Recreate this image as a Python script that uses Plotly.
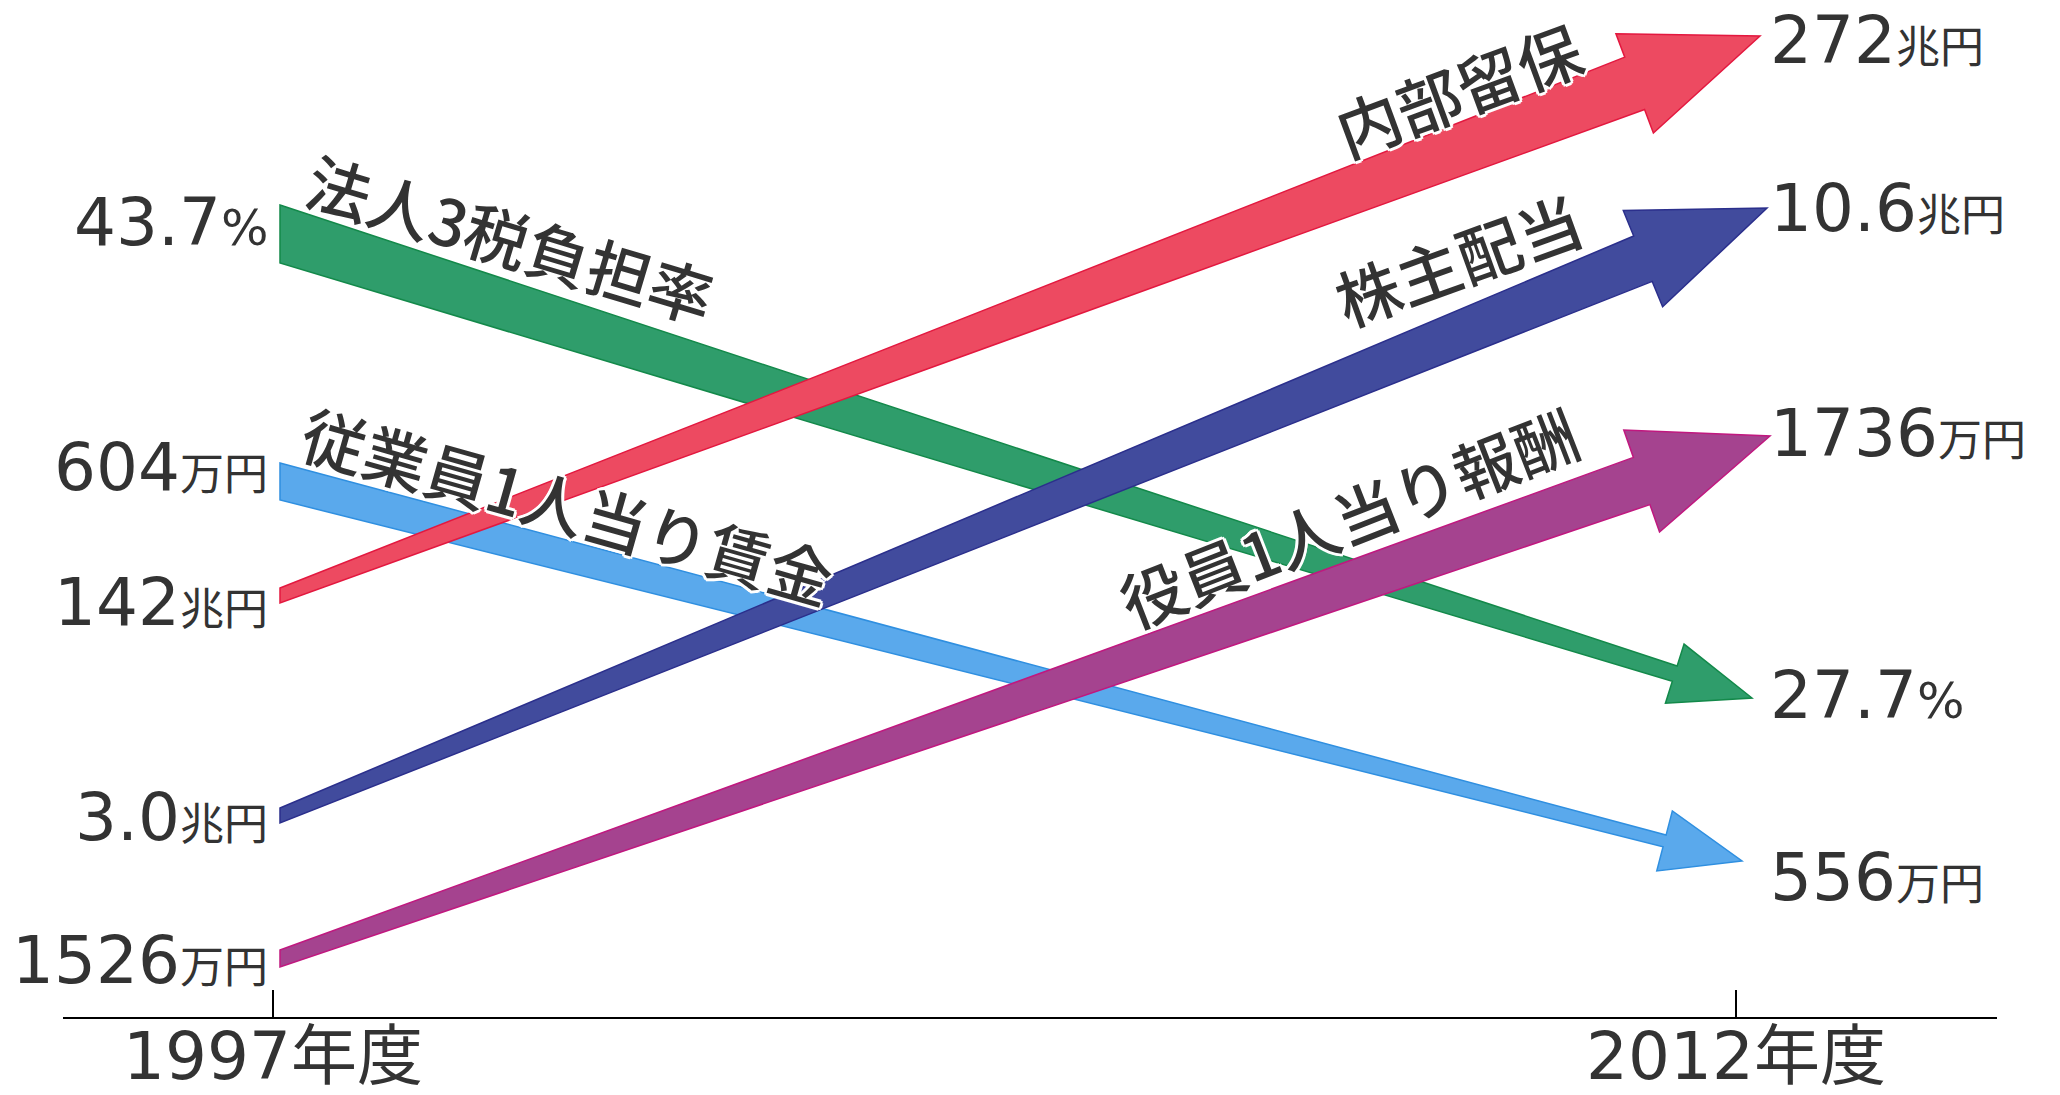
import math
import plotly.graph_objects as go

# ---------------- data ----------------
years = [1997, 2012]
year_labels = ["1997年度", "2012年度"]
series = ["法人3税負担率", "従業員1人当り賃金", "内部留保", "株主配当", "役員1人当り報酬"]
values_1997 = ["43.7", "604", "142", "3.0", "1526"]
values_2012 = ["27.7", "556", "272", "10.6", "1736"]
units = ["%", "万円", "兆円", "兆円", "万円"]

# ---------------- styling / layout (schematic positions, px) ----------------
W, H = 2060, 1095
PLOT_L, PLOT_R, AXIS_Y = 63, 1997, 1017
X0_PX, X1_PX = 273, 1736            # pixel positions of the two year ticks

fill_colors = ["#2f9d6b", "#5aa9ec", "#ed4a61", "#414b9d", "#a5438f"]
edge_colors = ["#13894a", "#2f8fe0", "#e3183f", "#2b2f8c", "#c0187f"]
draw_order = [0, 1, 2, 3, 4]

start_slot = [234, 481.5, 595.5, 815.5, 958.5]     # vertical centre at start
start_width = [58, 37, 15, 15, 17]                  # vertical width at start
tip_slot = [698, 861, 36, 208, 436]                 # vertical position of tip
tip_offset = [16, 6, 24, 31, 34]                    # px beyond the 2012 tick
end_width = [16, 12, 56, 49, 50]
head_len = [81, 80, 134, 134, 136]
head_half = [31, 31, 53, 52, 54]
start_offset = 7                                    # px after the 1997 tick

left_label_y = [222, 467, 602, 817, 960]
right_label_y = [695, 877, 40, 208, 433]
series_label_pos = [(511, 237), (568, 504), (1458, 88), (1458, 258), (1348, 516)]
series_label_angle = [16.7, 15.8, -20.2, -19.8, -21.3]

TEXT = "#333333"
NUM_FONT = "DejaVu Sans, Noto Sans CJK JP"
CJK_FONT = "Noto Sans CJK JP"


def px2year(px):
    return years[0] + (px - X0_PX) * (years[1] - years[0]) / (X1_PX - X0_PX)


def year2px(yr):
    return X0_PX + (yr - years[0]) * (X1_PX - X0_PX) / (years[1] - years[0])


def arrow_path(i):
    sx = year2px(years[0]) + start_offset
    sy = start_slot[i]
    tx = year2px(years[1]) + tip_offset[i]
    ty = tip_slot[i]
    dx, dy = tx - sx, ty - sy
    L = math.hypot(dx, dy)
    ux, uy = dx / L, dy / L
    nx, ny = -uy, ux
    bx, by = tx - ux * head_len[i], ty - uy * head_len[i]
    w1 = end_width[i] / 2
    hh = head_half[i]
    pts = [
        (sx, sy - start_width[i] / 2),
        (bx - nx * w1, by - ny * w1),
        (bx - nx * hh, by - ny * hh),
        (tx, ty),
        (bx + nx * hh, by + ny * hh),
        (bx + nx * w1, by + ny * w1),
        (sx, sy + start_width[i] / 2),
    ]
    return "M " + " L ".join(f"{px2year(x):.5f},{y:.2f}" for x, y in pts) + " Z"


fig = go.Figure()
# invisible trace to establish axes
fig.add_trace(go.Scatter(x=years, y=[AXIS_Y, AXIS_Y], mode="markers",
                         marker=dict(opacity=0), hoverinfo="skip", showlegend=False))

shapes = []
for i in draw_order:
    shapes.append(dict(type="path", xref="x", yref="y", path=arrow_path(i),
                       fillcolor=fill_colors[i],
                       line=dict(color=edge_colors[i], width=1.5),
                       layer="above"))

annotations = []


def value_text(v, u):
    size = 50 if u == "%" else 44
    fam = NUM_FONT if u == "%" else CJK_FONT
    return f"{v}<span style='font-size:{size}px;font-family:{fam}'>{u}</span>"


HALO = ("white 2px 2px 0, white -2px -2px 0, white 2px -2px 0, white -2px 2px 0, "
        "white 0 3px 0, white 0 -3px 0, white 3px 0 0, white -3px 0 0")

for i in range(len(series)):
    annotations.append(dict(x=px2year(270), y=left_label_y[i], xref="x", yref="y",
                            text=value_text(values_1997[i], units[i]), showarrow=False,
                            xanchor="right", yanchor="middle",
                            font=dict(family=NUM_FONT, size=66, color=TEXT)))
    annotations.append(dict(x=px2year(1768), y=right_label_y[i], xref="x", yref="y",
                            text=value_text(values_2012[i], units[i]), showarrow=False,
                            xanchor="left", yanchor="middle",
                            font=dict(family=NUM_FONT, size=66, color=TEXT)))
    cx, cy = series_label_pos[i]
    annotations.append(dict(x=px2year(cx), y=cy, xref="x", yref="y",
                            text=series[i], showarrow=False, textangle=series_label_angle[i],
                            xanchor="center", yanchor="middle",
                            font=dict(family=CJK_FONT, size=64, color=TEXT, weight=500,
                                      shadow=HALO)))

fig.update_layout(
    width=W, height=H,
    margin=dict(l=PLOT_L, r=W - PLOT_R, t=0, b=H - AXIS_Y, pad=0, autoexpand=False),
    paper_bgcolor="white", plot_bgcolor="white",
    showlegend=False,
    shapes=shapes,
    annotations=annotations,
    xaxis=dict(range=[px2year(PLOT_L), px2year(PLOT_R)], showgrid=False, zeroline=False,
               automargin=False,
               showline=True, linecolor="black", linewidth=2,
               ticks="inside", ticklen=27, tickwidth=2, tickcolor="black",
               tickvals=years, ticktext=year_labels, ticklabelstandoff=-19,
               tickfont=dict(family=NUM_FONT, size=66, color=TEXT), fixedrange=True),
    yaxis=dict(range=[AXIS_Y, 0], visible=False, showgrid=False, zeroline=False,
               automargin=False, fixedrange=True),
)

fig.write_html("out.html")
